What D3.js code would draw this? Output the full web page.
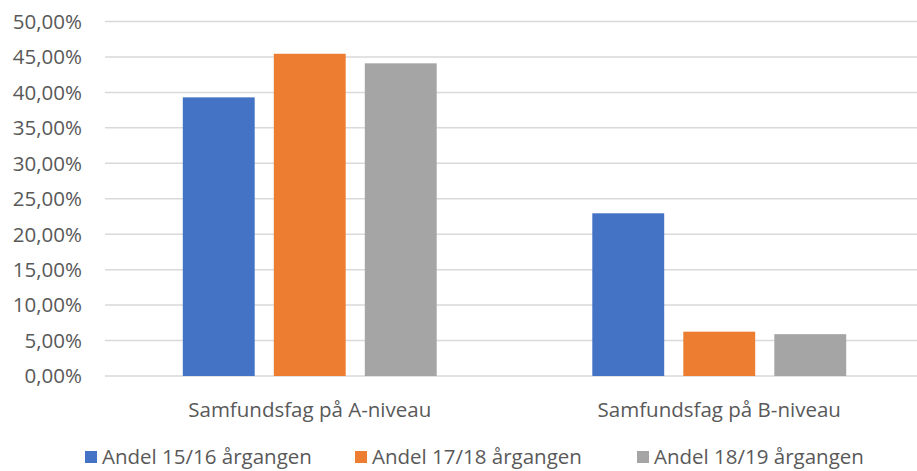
<!DOCTYPE html>
<html>
<head>
<meta charset="utf-8">
<script src="https://cdn.jsdelivr.net/npm/d3@7"></script>
<style>
  html, body { margin: 0; padding: 0; background: #fff; }
  svg { display: block; }
</style>
</head>
<body>
<svg id="chart" width="917" height="471"></svg>
<script>
// categories, series and values
const categories = ["Samfundsfag på A-niveau", "Samfundsfag på B-niveau"];
const seriesNames = ["Andel 15/16 årgangen", "Andel 17/18 årgangen", "Andel 18/19 årgangen"];
const seriesColors = ["#4472C4", "#ED7D31", "#A5A5A5"];
const values = [
  [0.393, 0.2295],   // 15/16
  [0.4545, 0.0625],  // 17/18
  [0.441, 0.059]     // 18/19
];
const yTicks = [0, 0.05, 0.10, 0.15, 0.20, 0.25, 0.30, 0.35, 0.40, 0.45, 0.50];

(function () {
  const svg = d3.select("#chart");
  const FONT = "'Open Sans', sans-serif";
  const TEXT = "#595959";
  const FS = 20.5;

  const plotL = 105, plotR = 924, plotT = 21.5, plotB = 376;

  const x0 = d3.scaleBand().domain(categories).range([plotL, plotR]).padding(0);
  const bw = x0.bandwidth();
  const x1 = d3.scaleBand().domain(seriesNames)
    .range([bw * 0.19, bw * 0.81]).paddingInner(0.21).paddingOuter(0);
  const y = d3.scaleLinear().domain([0, 0.5]).range([plotB, plotT]);

  const fmt = v => (v * 100).toFixed(2).replace(".", ",") + "%";

  // gridlines
  svg.append("g")
    .selectAll("line")
    .data(yTicks)
    .join("line")
    .attr("x1", plotL).attr("x2", plotR)
    .attr("y1", d => y(d)).attr("y2", d => y(d))
    .attr("stroke", "#D9D9D9")
    .attr("stroke-width", 1.5);

  // y tick labels
  svg.append("g")
    .selectAll("text")
    .data(yTicks)
    .join("text")
    .attr("x", 82)
    .attr("y", d => y(d))
    .attr("dy", "0.36em")
    .attr("text-anchor", "end")
    .attr("font-family", FONT)
    .attr("font-size", FS)
    .attr("fill", TEXT)
    .text(fmt);

  // bars
  const rows = [];
  categories.forEach((c, ci) => seriesNames.forEach((s, si) => {
    rows.push({ cat: c, series: s, value: values[si][ci], color: seriesColors[si] });
  }));

  svg.append("g")
    .selectAll("rect")
    .data(rows)
    .join("rect")
    .attr("x", d => x0(d.cat) + x1(d.series))
    .attr("width", x1.bandwidth())
    .attr("y", d => y(d.value))
    .attr("height", d => y(0) - y(d.value))
    .attr("fill", d => d.color);

  // category labels
  svg.append("g")
    .selectAll("text")
    .data(categories)
    .join("text")
    .attr("x", d => x0(d) + bw / 2)
    .attr("y", 417)
    .attr("text-anchor", "middle")
    .attr("font-family", FONT)
    .attr("font-size", FS)
    .attr("fill", TEXT)
    .text(d => d);

  // legend
  const legendX = [85, 355, 637];
  const lg = svg.append("g")
    .selectAll("g")
    .data(seriesNames)
    .join("g")
    .attr("transform", (d, i) => `translate(${legendX[i]},457)`);

  lg.append("rect")
    .attr("x", 0).attr("y", -6)
    .attr("width", 12).attr("height", 12)
    .attr("fill", (d, i) => seriesColors[i]);

  lg.append("text")
    .attr("x", 17)
    .attr("dy", "0.36em")
    .attr("font-family", FONT)
    .attr("font-size", FS)
    .attr("fill", TEXT)
    .text(d => d);
})();
</script>
</body>
</html>
